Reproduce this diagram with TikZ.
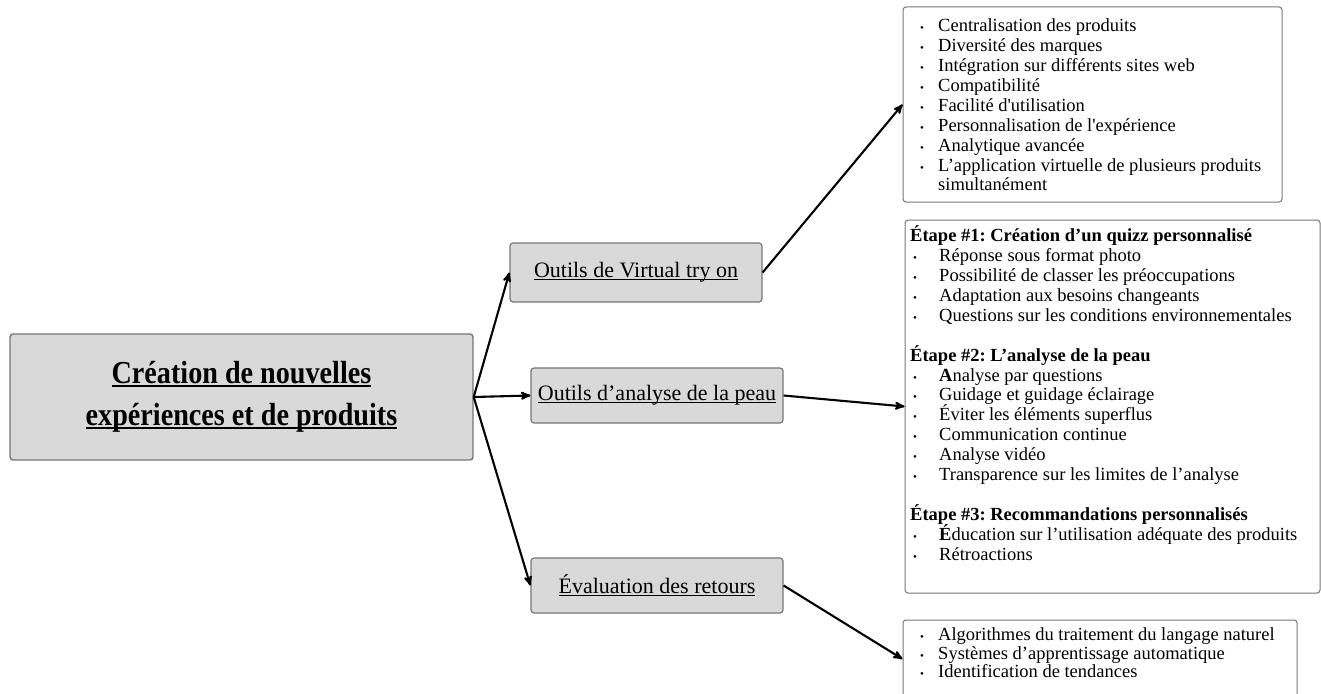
\documentclass[tikz,border=0pt]{standalone}
\usepackage{fontspec}
\setmainfont{Liberation Serif}
\newfontfamily\titrefont[FakeStretch=0.88]{Liberation Serif}
\usetikzlibrary{arrows}
\frenchspacing

\definecolor{fond}{HTML}{D9D9D9}
\definecolor{bord}{HTML}{767676}

\newsavebox{\soulbox}
\newcommand{\souligne}[2]{\sbox{\soulbox}{#2}\rlap{\rule[-0.1em]{\wd\soulbox}{#1}}\usebox{\soulbox}}
\newcommand{\puce}[1][18pt]{\makebox[#1][l]{\fontsize{11}{11}\selectfont\textbullet}}

\tikzset{
	titre/.style={draw=bord, fill=fond, line width=1.4pt, rounded corners=3pt, minimum width=463pt, minimum height=126pt, align=center, font=\titrefont\bfseries\fontsize{32}{41.5}\selectfont},
	outil/.style={draw=bord, fill=fond, line width=1.2pt, rounded corners=3pt, minimum width=252pt, minimum height=55pt, font=\fontsize{22}{26}\selectfont},
	cadre/.style={draw=bord, line width=1pt, rounded corners=3pt},
	liste/.style={anchor=north west, inner sep=0pt, align=left, font=\fontsize{18.5}{19.9}\selectfont},
	fleche/.style={->, >=stealth', line width=2.1pt}
}

\begin{document}
\begin{tikzpicture}[x=1pt, y=-1pt]
	\useasboundingbox (0, 0) rectangle (1321, 693);

	% Главный блок
	\node[titre] (creation) at (241.5, 397) {\souligne{2pt}{Création de nouvelles}\\ \souligne{2pt}{expériences et de produits}};

	% Три инструмента
	\node[outil, minimum height=59pt] (essai) at (636, 272.5) {\souligne{1pt}{Outils de Virtual try on}};
	\node[outil] (analyse) at (657, 395.5) {\souligne{1pt}{Outils d’analyse de la peau}};
	\node[outil] (retours) at (657, 585.5) {\souligne{1pt}{Évaluation des retours}};

	% Рамки справа
	\node[cadre, minimum width=379pt, minimum height=195pt] (avantages) at (1092.5, 104.5) {};
	\node[cadre, minimum width=415pt, minimum height=373pt] (etapes) at (1112.5, 406.5) {};
	\node[cadre, minimum width=394pt, minimum height=78pt] (methodes) at (1100, 659) {};

	% Списки
	\node[liste] (avantages-txt) at (920, 13.5) {\rule{0pt}{18pt}\puce Centralisation des produits\\
		\puce Diversité des marques\\
		\puce Intégration sur différents sites web\\
		\puce Compatibilité\\
		\puce Facilité d\textquotesingle utilisation\\
		\puce Personnalisation de l\textquotesingle expérience\\
		\puce Analytique avancée\\
		\puce L’application virtuelle de plusieurs produits\\
		\hspace*{18pt}simultanément};

	\node[liste] (etapes-txt) at (910, 223.5) {\rule{0pt}{18pt}\textbf{Étape \#1: Création d’un quizz personnalisé}\\
		\hspace*{3pt}\puce[26pt]Réponse sous format photo\\
		\hspace*{3pt}\puce[26pt]Possibilité de classer les préoccupations\\
		\hspace*{3pt}\puce[26pt]Adaptation aux besoins changeants\\
		\hspace*{3pt}\puce[26pt]Questions sur les conditions environnementales\\[19.9pt]
		\textbf{Étape \#2: L’analyse de la peau}\\
		\hspace*{3pt}\puce[26pt]\textbf{A}nalyse par questions\\
		\hspace*{3pt}\puce[26pt]Guidage et guidage éclairage\\
		\hspace*{3pt}\puce[26pt]Éviter les éléments superflus\\
		\hspace*{3pt}\puce[26pt]Communication continue\\
		\hspace*{3pt}\puce[26pt]Analyse vidéo\\
		\hspace*{3pt}\puce[26pt]Transparence sur les limites de l’analyse\\[19.9pt]
		\textbf{Étape \#3: Recommandations personnalisés}\\
		\hspace*{3pt}\puce[26pt]\textbf{É}ducation sur l’utilisation adéquate des produits\\
		\hspace*{3pt}\puce[26pt]Rétroactions};

	\node[liste, font=\fontsize{18.5}{18.8}\selectfont] (methodes-txt) at (920, 622) {\rule{0pt}{18pt}\puce Algorithmes du traitement du langage naturel\\
		\puce Systèmes d’apprentissage automatique\\
		\puce Identification de tendances};

	% Стрелки
	\draw[fleche] (creation.east) -- (essai.west);
	\draw[fleche] (creation.east) -- (analyse.west);
	\draw[fleche] (creation.east) -- (retours.west);
	\draw[fleche] (essai.east) -- (avantages.west);
	\draw[fleche] (analyse.east) -- (etapes.west);
	\draw[fleche] (retours.east) -- (methodes.west);
\end{tikzpicture}
\end{document}
